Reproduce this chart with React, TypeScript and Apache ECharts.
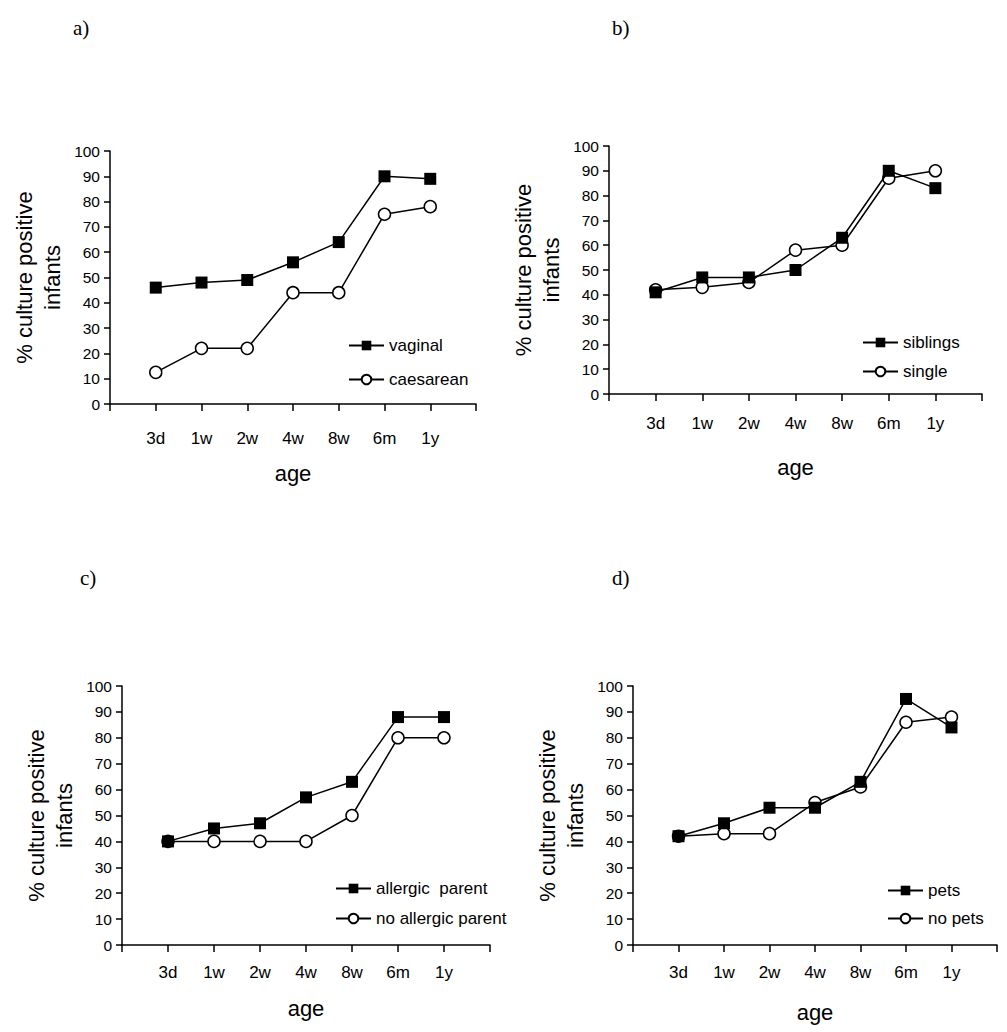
import React, { useEffect, useRef } from "react";
import * as echarts from "echarts";

// ---- data ----
const ages = ["3d", "1w", "2w", "4w", "8w", "6m", "1y"];
const vaginal = [46, 48, 49, 56, 64, 90, 89];
const caesarean = [12.5, 22, 22, 44, 44, 75, 78];
const siblings = [41, 47, 47, 50, 63, 90, 83];
const single = [42, 43, 45, 58, 60, 87, 90];
const allergicParent = [40, 45, 47, 57, 63, 88, 88];
const noAllergicParent = [40, 40, 40, 40, 50, 80, 80];
const pets = [42, 47, 53, 53, 63, 95, 84];
const noPets = [42, 43, 43, 55, 61, 86, 88];
const panelTitles = ["a)", "b)", "c)", "d)"];
const yAxisName = "% culture positive\ninfants";
const xAxisName = "age";

const panelSeries: [string, number[], string][][] = [
  [["vaginal", vaginal, "sq"], ["caesarean", caesarean, "ci"]],
  [["siblings", siblings, "sq"], ["single", single, "ci"]],
  [["allergic  parent", allergicParent, "sq"], ["no allergic parent", noAllergicParent, "ci"]],
  [["pets", pets, "sq"], ["no pets", noPets, "ci"]],
];

// ---- layout ----
const layouts = [
  { grid: { left: 110, top: 151, width: 366, height: 253 }, title: [73, 28], legend: [348, 337, 17], labelMargin: 26, nameGap: 58 },
  { grid: { left: 609, top: 146, width: 373, height: 248 }, title: [612, 28], legend: [862, 334, 12], labelMargin: 21, nameGap: 62 },
  { grid: { left: 122, top: 686, width: 368, height: 259 }, title: [80, 578], legend: [335, 880, 13], labelMargin: 19, nameGap: 52 },
  { grid: { left: 633, top: 686, width: 364, height: 259 }, title: [612, 578], legend: [887, 882, 11], labelMargin: 19, nameGap: 56 },
];

const FONT = "'Liberation Sans', Arial, Helvetica, sans-serif";

export default function App() {
  const ref = useRef<HTMLDivElement>(null);
  useEffect(() => {
    if (!ref.current) return;
    const chart = echarts.init(ref.current, undefined, { renderer: "svg" });
    const grids: any[] = [];
    const xAxes: any[] = [];
    const yAxes: any[] = [];
    const series: any[] = [];
    const legends: any[] = [];
    const graphics: any[] = [];
    layouts.forEach((L, i) => {
      grids.push({ ...L.grid, containLabel: false });
      xAxes.push({
        type: "value",
        gridIndex: i,
        min: 0,
        max: ages.length + 1,
        interval: 1,
        name: xAxisName,
        nameLocation: "middle",
        nameGap: L.nameGap,
        nameTextStyle: { fontSize: 22, color: "#000", fontFamily: FONT, verticalAlign: "top" },
        axisLine: { lineStyle: { color: "#000", width: 1.5 } },
        axisTick: { inside: false, length: 7, lineStyle: { color: "#000", width: 1.5 } },
        axisLabel: {
          margin: L.labelMargin,
          fontSize: 17,
          color: "#000",
          fontFamily: FONT,
          formatter: (v: number) => ages[v - 1] ?? "",
        },
        splitLine: { show: false },
      });
      yAxes.push({
        type: "value",
        gridIndex: i,
        min: 0,
        max: 100,
        interval: 10,
        name: yAxisName,
        nameLocation: "middle",
        nameGap: 44,
        nameTextStyle: { fontSize: 22, color: "#000", fontFamily: FONT, lineHeight: 28 },
        axisLine: { show: true, lineStyle: { color: "#000", width: 1.5 } },
        axisTick: { show: true, inside: false, length: 6, lineStyle: { color: "#000", width: 1.5 } },
        axisLabel: { margin: 10, fontSize: 15.5, color: "#000", fontFamily: FONT },
        splitLine: { show: false },
      });
      const sers = panelSeries[i];
      // draw open-circle series first, filled squares on top
      [...sers].reverse().forEach(([name, vals, kind]) => {
        series.push({
          type: "line",
          name,
          xAxisIndex: i,
          yAxisIndex: i,
          data: vals.map((v, k) => [k + 1, v]),
          symbol: kind === "sq" ? "rect" : "circle",
          symbolSize: kind === "sq" ? 12 : 12,
          showSymbol: true,
          lineStyle: { color: "#000", width: 1.5 },
          itemStyle:
            kind === "sq"
              ? { color: "#000", borderColor: "#000", borderWidth: 0 }
              : { color: "#fff", borderColor: "#000", borderWidth: 1.5 },
          z: kind === "sq" ? 3 : 2,
        });
      });
      legends.push({
        orient: "vertical",
        left: L.legend[0],
        top: L.legend[1],
        itemGap: L.legend[2],
        itemWidth: 35,
        itemHeight: 12,
        align: "left",
        padding: 0,
        data: sers.map((s) => s[0]),
        textStyle: { fontSize: 17, color: "#000", fontFamily: FONT },
        selectedMode: false,
      });
      graphics.push({
        type: "text",
        left: L.title[0],
        top: L.title[1] - 11,
        style: {
          text: panelTitles[i],
          font: "21px 'Liberation Serif', 'Times New Roman', serif",
          fill: "#000",
        },
      });
    });
    chart.setOption({
      animation: false,
      backgroundColor: "#fff",
      grid: grids,
      xAxis: xAxes,
      yAxis: yAxes,
      series,
      legend: legends,
      graphic: graphics,
    });
    return () => chart.dispose();
  }, []);
  return (
    <div
      ref={ref}
      style={{ position: "absolute", left: 0, top: 0, width: 1007, height: 1032, background: "#fff" }}
    />
  );
}
